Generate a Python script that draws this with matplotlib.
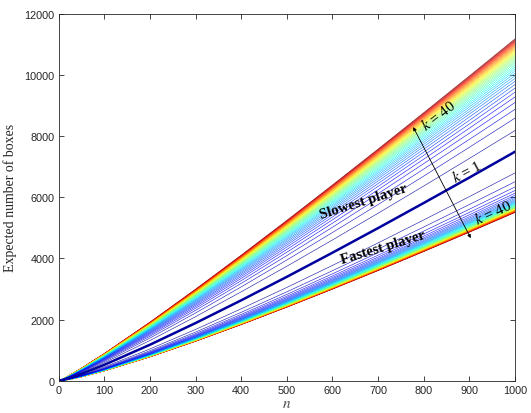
import numpy as np
import matplotlib
matplotlib.use("Agg")
import matplotlib.pyplot as plt

plt.rcParams["mathtext.fontset"] = "stix"

# n grid and the k=1 curve
n_vals = np.array([0, 10, 25, 50, 100, 200, 300, 400, 500, 600, 700, 800, 900, 1000])
base_k1 = np.array([0, 29, 95, 225, 519, 1176, 1885, 2628, 3396, 4185, 4990, 5810, 6642, 7485])

# values at n=1000 for k = 1..40
slow_end = [7485, 8178, 8584, 8871, 9094, 9277, 9431, 9564, 9682, 9788,
            9883, 9970, 10050, 10124, 10193, 10258, 10318, 10375, 10429, 10481,
            10530, 10576, 10620, 10663, 10704, 10743, 10781, 10817, 10852, 10886,
            10919, 10951, 10982, 11011, 11040, 11069, 11096, 11123, 11149, 11174]
fast_end = [7485, 6792, 6504, 6334, 6218, 6131, 6062, 6006, 5959, 5918,
            5883, 5852, 5825, 5800, 5777, 5756, 5737, 5719, 5703, 5687,
            5673, 5660, 5647, 5635, 5623, 5612, 5602, 5592, 5583, 5573,
            5565, 5557, 5549, 5541, 5533, 5526, 5519, 5513, 5506, 5500]

x_ticks = list(range(0, 1001, 100))
y_ticks = list(range(0, 12001, 2000))

fig = plt.figure(figsize=(5.31, 4.14), dpi=100)
ax = fig.add_axes([0.1105, 0.078, 0.8594, 0.8867])

cmap = plt.get_cmap("jet")
K = len(slow_end)
frac = n_vals / n_vals[-1]
for k in range(K, 1, -1):
    c = cmap((k - 1) / (K - 1))
    ax.plot(n_vals, base_k1 + (slow_end[k - 1] - base_k1[-1]) * frac, color=c, lw=0.45, alpha=0.85)
    ax.plot(n_vals, base_k1 + (fast_end[k - 1] - base_k1[-1]) * frac, color=c, lw=0.45, alpha=0.85)
ax.plot(n_vals, base_k1, color=(0, 0, 0.62), lw=1.8)

ax.set_xlim(0, 1000)
ax.set_ylim(0, 12000)
ax.set_xticks(x_ticks)
ax.set_yticks(y_ticks)
ax.tick_params(direction="in", length=3.5, width=0.6, top=True, right=True,
               labelsize=7.8, colors=(0.15, 0.15, 0.15), pad=3)
for lab in ax.get_xticklabels() + ax.get_yticklabels():
    lab.set_fontfamily("Liberation Sans")
for s in ax.spines.values():
    s.set_color((0.15, 0.15, 0.15))
    s.set_linewidth(0.6)

ax.set_xlabel("$n$", fontsize=11, labelpad=0, color=(0.3, 0.3, 0.3))
ax.set_ylabel("Expected number of boxes", fontsize=10, family="Liberation Serif",
              labelpad=5, color=(0.15, 0.15, 0.15))

ax.text(667, 5876, "Slowest player", family="Liberation Serif", weight="bold",
        fontsize=10.5, rotation=17.5, ha="center", va="center")
ax.text(711, 4370, "Fastest player", family="Liberation Serif", weight="bold",
        fontsize=10.5, rotation=17, ha="center", va="center")
ax.text(895, 6860, "$k$ = 1", family="Liberation Serif", fontsize=11,
        rotation=28, ha="center", va="center")
ax.text(832, 8720, "$k$ = 40", family="Liberation Serif", fontsize=11,
        rotation=38, ha="center", va="center")
ax.text(951, 5530, "$k$ = 40", family="Liberation Serif", fontsize=11,
        rotation=25, ha="center", va="center")

ax.annotate("", xy=(777, 8290), xytext=(903, 4660),
            arrowprops=dict(arrowstyle="<|-|>", color="black", lw=0.6,
                            mutation_scale=5, shrinkA=0, shrinkB=0))

fig.savefig("out.png", dpi=100)
